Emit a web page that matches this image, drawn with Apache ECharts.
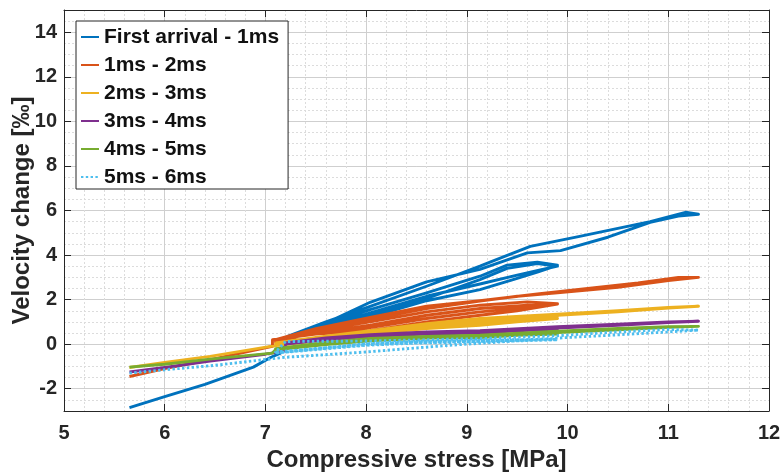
<!DOCTYPE html>
<html>
<head>
<meta charset="utf-8">
<script src="https://cdn.jsdelivr.net/npm/echarts@6/dist/echarts.min.js"></script>
<style>
html,body{margin:0;padding:0;background:#fff;}
#chart{width:780px;height:474px;}
</style>
</head>
<body>
<div id="chart"></div>
<script>
// ---- Data ----
const seriesNames = ['First arrival - 1ms', '1ms - 2ms', '2ms - 3ms', '3ms - 4ms', '4ms - 5ms', '5ms - 6ms'];
const xTicks = [5, 6, 7, 8, 9, 10, 11, 12];
const yTicks = [-2, 0, 2, 4, 6, 8, 10, 12, 14];

const firstArrival = [
  [5.65,-2.85],[6.0,-2.35],[6.4,-1.8],[6.88,-1.03],[7.05,-0.6],[7.15,-0.4],[7.2,0.3],
  [7.6,0.75],[8.04,1.21],[8.6,1.95],[9.13,2.45],[9.5,2.95],[9.7,3.23],[9.9,3.54],
  [9.7,3.68],[9.4,3.55],[9.13,3.05],[8.6,2.3],[8.04,1.55],[7.6,0.9],[7.22,0.35],
  [7.6,0.8],[8.04,1.4],[8.6,2.15],[9.13,2.7],[9.5,3.1],[9.75,3.35],[9.9,3.5],
  [9.7,3.62],[9.4,3.4],[9.13,2.9],[8.6,2.05],[8.04,1.3],[7.6,0.8],[7.22,0.33],
  [7.6,0.95],[8.04,1.88],[8.6,2.8],[9.13,3.36],[9.6,4.1],[9.93,4.2],[10.4,4.8],[10.82,5.47],[11.1,5.75],[11.3,5.83],
  [11.17,5.92],[10.82,5.5],[10.12,4.84],[9.63,4.39],[9.35,3.9],[9.13,3.5],[8.6,2.6],[8.04,1.7],[7.6,1.0],[7.22,0.35]
];
const ms1to2 = [
  [5.65,-1.45],[6.0,-1.1],[6.5,-0.65],[7.07,-0.1],[7.07,0.2],
  [7.5,0.45],[8.04,0.6],[8.6,1.0],[9.13,1.3],[9.5,1.5],[9.9,1.8],
  [9.6,1.75],[9.13,1.6],[8.6,1.3],[8.04,0.85],[7.5,0.5],[7.1,0.1],
  [7.5,0.5],[8.04,0.75],[8.6,1.15],[9.13,1.45],[9.6,1.65],[9.9,1.82],
  [9.6,1.9],[9.13,1.75],[8.6,1.45],[8.04,1.0],[7.5,0.6],[7.1,0.15],
  [7.5,0.65],[8.04,1.12],[8.6,1.6],[9.13,1.93],[9.5,2.15],[9.9,2.3],[10.5,2.55],[11.0,2.85],[11.3,3.0],
  [11.1,3.0],[10.7,2.75],[10.2,2.5],[9.7,2.25],[9.13,1.95],[8.6,1.7],[8.04,1.2],[7.5,0.7],[7.1,0.2]
];
const ms2to3 = [
  [5.65,-1.05],[6.0,-0.82],[6.45,-0.55],[7.05,-0.1],
  [7.5,0.15],[8.04,0.45],[8.6,0.7],[9.13,0.85],[9.5,1.0],[9.9,1.15],
  [9.5,1.1],[9.13,0.95],[8.6,0.78],[8.04,0.52],[7.5,0.22],[7.1,0.0],
  [7.5,0.2],[8.04,0.55],[8.6,0.85],[9.13,1.05],[9.5,1.15],[9.9,1.25],
  [9.5,1.2],[9.13,1.0],[8.6,0.8],[8.04,0.5],[7.5,0.25],[7.1,0.02],
  [7.5,0.3],[8.04,0.58],[8.6,0.9],[9.13,1.12],[9.9,1.3],[10.5,1.45],[11.0,1.62],[11.3,1.7],
  [11.0,1.65],[10.5,1.5],[9.9,1.35],[9.13,1.15],[8.6,0.92],[8.04,0.6],[7.5,0.3],[7.1,0.05]
];
const ms3to4 = [
  [5.65,-1.25],[6.0,-1.05],[6.45,-0.76],[7.0,-0.45],[7.2,-0.3],[7.2,0.0],
  [7.6,0.2],[8.04,0.35],[8.6,0.45],[9.13,0.5],[9.5,0.6],[9.9,0.68],
  [9.5,0.64],[9.13,0.55],[8.6,0.5],[8.04,0.4],[7.6,0.22],[7.2,0.02],
  [7.6,0.25],[8.04,0.4],[8.6,0.52],[9.13,0.58],[9.9,0.72],[10.5,0.85],[11.0,0.97],[11.3,1.03],
  [11.0,1.0],[10.5,0.9],[9.9,0.78],[9.13,0.6],[8.6,0.55],[8.04,0.42],[7.6,0.28],[7.2,0.05]
];
const ms4to5 = [
  [5.65,-1.03],[6.0,-0.9],[6.45,-0.67],[7.07,-0.4],[7.1,-0.25],
  [7.6,-0.02],[8.04,0.15],[8.6,0.28],[9.13,0.3],[9.5,0.4],[9.9,0.45],
  [9.5,0.42],[9.13,0.34],[8.6,0.3],[8.04,0.2],[7.6,0.03],[7.1,-0.2],
  [7.6,0.03],[8.04,0.22],[8.6,0.32],[9.13,0.36],[9.9,0.52],[10.5,0.65],[11.0,0.76],[11.3,0.8],
  [11.0,0.78],[10.5,0.7],[9.9,0.58],[9.13,0.4],[8.6,0.35],[8.04,0.26],[7.6,0.08],[7.1,-0.2]
];
const ms5to6 = [
  [5.65,-1.3],[6.0,-1.15],[6.5,-0.95],[7.17,-0.6],
  [8.0,-0.35],[8.83,-0.05],[9.5,0.15],[10.0,0.3],[10.5,0.42],[11.0,0.55],[11.3,0.63],
  [11.0,0.66],[10.5,0.55],[9.9,0.38],[9.13,0.25],[8.0,0.14],[7.2,0.12],
  [7.1,-0.35],[8.0,0.0],[8.5,0.1],[9.13,0.15],[9.9,0.2],
  [9.13,0.1],[8.5,0.05],[8.0,-0.05],[7.1,-0.4],
  [8.0,0.02],[8.5,0.12],[9.13,0.18],[9.9,0.22],
  [9.13,0.13],[8.5,0.07],[8.0,-0.03],[7.1,-0.38]
];
const seriesData = [firstArrival, ms1to2, ms2to3, ms3to4, ms4to5, ms5to6];
const colors = ['#0072BD', '#D95319', '#EDB120', '#7E2F8E', '#77AC30', '#4DBEEE'];

// ---- Chart ----
const FONT = 'Liberation Sans, Arial, sans-serif';
const chart = echarts.init(document.getElementById('chart'), null, {renderer: 'canvas'});
const axisLineColor = '#262626';
const majorGrid = '#cfcfcf';
const minorGrid = '#dcdcdc';

function xAxisBase(pos, primary) {
  return {
    type: 'value', position: pos, min: xTicks[0], max: xTicks[xTicks.length - 1], interval: 1,
    axisLine: {show: true, onZero: false, lineStyle: {color: axisLineColor, width: 1}},
    axisTick: {show: true, inside: true, length: 7, lineStyle: {color: axisLineColor}},
    axisLabel: {show: primary, margin: 12, color: '#262626', fontFamily: FONT, fontWeight: 'bold', fontSize: 20},
    splitLine: {show: primary, lineStyle: {color: majorGrid, width: 1}},
    minorTick: {show: false, splitNumber: 5},
    minorSplitLine: {show: primary, lineStyle: {color: minorGrid, width: 1, type: [2, 2]}},
    name: primary ? 'Compressive stress [MPa]' : '',
    nameLocation: 'middle', nameGap: 37, nameMoveOverlap: false,
    nameTextStyle: {color: '#262626', fontFamily: FONT, fontWeight: 'bold', fontSize: 24}
  };
}
function yAxisBase(pos, primary) {
  return {
    type: 'value', position: pos, min: -3, max: 15, interval: 1,
    axisLine: {show: true, onZero: false, lineStyle: {color: axisLineColor, width: 1}},
    axisTick: {show: true, inside: true, length: 7, lineStyle: {color: axisLineColor},
      customValues: yTicks},
    axisLabel: {show: primary, margin: 7, color: '#262626', fontFamily: FONT, fontWeight: 'bold', fontSize: 20,
      customValues: yTicks},
    splitLine: {show: false},
    minorTick: {show: false},
    name: primary ? 'Velocity change [‰]' : '',
    nameLocation: 'middle', nameGap: 30, nameRotate: 90, nameMoveOverlap: false,
    nameTextStyle: {color: '#262626', fontFamily: FONT, fontWeight: 'bold', fontSize: 24}
  };
}

// helper y-axes for the horizontal grid (minor every 0.5, major at the even ticks)
const yMinorGridAxis = {
  type: 'value', position: 'left', min: -3, max: 15, interval: 0.5,
  axisLine: {show: false}, axisTick: {show: false}, axisLabel: {show: false},
  splitLine: {show: true, lineStyle: {color: minorGrid, width: 1, type: [2, 2]}}
};
const yMajorGridAxis = {
  type: 'value', position: 'left', min: -3, max: 15, interval: 1,
  axisLine: {show: false}, axisTick: {show: false}, axisLabel: {show: false},
  splitLine: {show: true, lineStyle: {color: ['rgba(0,0,0,0)', majorGrid], width: 1}}
};

const series = seriesNames.map((name, i) => ({
  name: name,
  type: 'line',
  xAxisIndex: 0,
  yAxisIndex: 0,
  data: seriesData[i],
  showSymbol: false,
  symbol: 'none',
  smooth: false,
  z: 3 + i,
  color: colors[i],
  lineStyle: {color: colors[i], width: 2.9, type: i === 5 ? [2.4, 2.4] : 'solid', cap: 'butt', join: 'round'},
  emphasis: {disabled: true}
}));

chart.setOption({
  animation: false,
  backgroundColor: '#ffffff',
  grid: {left: 64, right: 11, top: 10, bottom: 63, containLabel: false, outerBoundsMode: 'none'},
  xAxis: [xAxisBase('bottom', true), xAxisBase('top', false)],
  yAxis: [yAxisBase('left', true), yAxisBase('right', false), yMinorGridAxis, yMajorGridAxis],
  legend: {
    show: true,
    left: 76, top: 21,
    orient: 'vertical',
    backgroundColor: '#ffffff',
    borderColor: '#262626', borderWidth: 1, borderRadius: 0,
    padding: [5, 9, 1, 4],
    itemWidth: 18, itemHeight: 14, itemGap: 6,
    itemStyle: {opacity: 0},
    textStyle: {color: '#111', fontFamily: FONT, fontWeight: 'bold', fontSize: 21, lineHeight: 22},
    data: seriesNames,
    selectedMode: false,
    z: 20
  },
  series: series
});
</script>
</body>
</html>
